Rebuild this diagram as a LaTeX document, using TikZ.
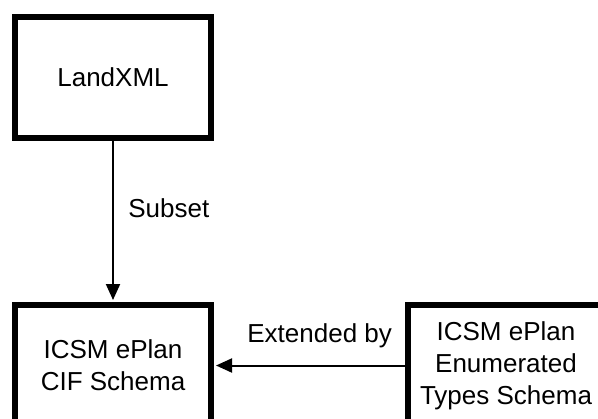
\documentclass[tikz,border=0pt]{standalone}
\usepackage{fontspec}
\setmainfont{Liberation Sans}
\usetikzlibrary{arrows.meta}
\tikzset{
  schemabox/.style={draw=black, line width=3pt, minimum width=98pt, minimum height=60.5pt,
    inner sep=0pt, align=center, font=\fontsize{13pt}{16pt}\selectfont},
  relarrow/.style={draw=black, line width=1pt, -{Triangle[length=8pt,width=7pt]}, shorten >=1pt},
  rellabel/.style={font=\fontsize{13pt}{16pt}\selectfont, inner sep=0pt}
}
\begin{document}
\begin{tikzpicture}[x=0.5pt,y=-0.5pt]
\useasboundingbox (0,0) rectangle (598,418);
\clip (0,0) rectangle (598,418);
\node[schemabox] (landxml) at (113,77.5) {LandXML};
\node[schemabox] (cif) at (113,365.5) {ICSM ePlan\\CIF Schema};
\node[schemabox] (enum) at (506,365.5) {ICSM ePlan\\Enumerated\\Types Schema};
\draw[relarrow] (landxml.south) -- (cif.north);
\draw[relarrow] (enum.west) -- (cif.east);
\node[rellabel, anchor=base west] (subset) at (128,217) {Subset};
\node[rellabel, anchor=base west] (extby) at (247,342) {Extended by};
\end{tikzpicture}
\end{document}
